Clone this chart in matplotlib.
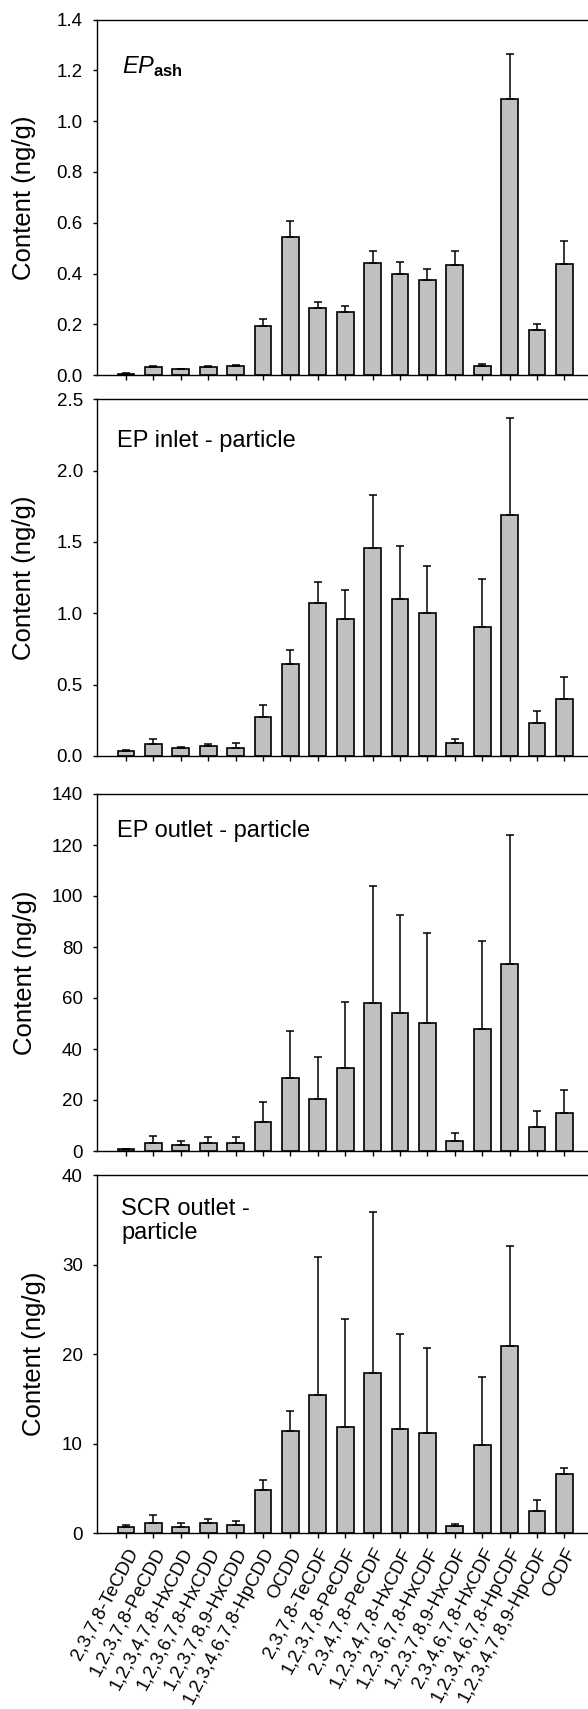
import matplotlib
matplotlib.use("Agg")
from matplotlib import pyplot as plt
import numpy as np

plt.rcParams['font.family'] = ['Liberation Sans', 'DejaVu Sans']
plt.rcParams['mathtext.fontset'] = 'custom'
plt.rcParams['mathtext.rm'] = 'Liberation Sans'
plt.rcParams['mathtext.it'] = 'Liberation Sans:italic'
plt.rcParams['mathtext.bf'] = 'Liberation Sans:bold'

congeners = ['2,3,7,8-TeCDD', '1,2,3,7,8-PeCDD', '1,2,3,4,7,8-HxCDD', '1,2,3,6,7,8-HxCDD',
             '1,2,3,7,8,9-HxCDD', '1,2,3,4,6,7,8-HpCDD', 'OCDD', '2,3,7,8-TeCDF',
             '1,2,3,7,8-PeCDF', '2,3,4,7,8-PeCDF', '1,2,3,4,7,8-HxCDF', '1,2,3,6,7,8-HxCDF',
             '1,2,3,7,8,9-HxCDF', '2,3,4,6,7,8-HxCDF', '1,2,3,4,6,7,8-HpCDF',
             '1,2,3,4,7,8,9-HpCDF', 'OCDF']

# mean content (ng/g) and upper error (sd)
ep_ash = [0.006, 0.033, 0.024, 0.033, 0.035, 0.193, 0.543, 0.264, 0.248, 0.44, 0.40, 0.375,
          0.433, 0.038, 1.088, 0.177, 0.437]
ep_ash_sd = [0.002, 0.002, 0.002, 0.002, 0.005, 0.030, 0.065, 0.023, 0.025, 0.048, 0.047,
             0.042, 0.055, 0.008, 0.177, 0.023, 0.092]

ep_inlet = [0.035, 0.087, 0.054, 0.073, 0.059, 0.272, 0.646, 1.072, 0.96, 1.458, 1.103, 1.002,
            0.089, 0.901, 1.688, 0.229, 0.40]
ep_inlet_sd = [0.007, 0.033, 0.012, 0.011, 0.030, 0.086, 0.098, 0.145, 0.201, 0.372, 0.372,
               0.328, 0.028, 0.342, 0.683, 0.089, 0.157]

ep_outlet = [0.65, 3.1, 2.2, 3.1, 3.1, 11.3, 28.8, 20.3, 32.7, 57.9, 54.3, 50.3, 4.1, 47.9,
             73.5, 9.6, 14.9]
ep_outlet_sd = [0.2, 2.7, 1.7, 2.5, 2.5, 7.8, 18.2, 16.5, 25.6, 46.0, 38.4, 35.2, 3.0, 34.5,
                50.4, 6.2, 8.9]

scr_outlet = [0.71, 1.12, 0.71, 1.12, 0.93, 4.87, 11.38, 15.47, 11.9, 17.92, 11.64, 11.15,
              0.78, 9.81, 20.86, 2.5, 6.65]
scr_outlet_sd = [0.19, 0.93, 0.41, 0.48, 0.49, 1.12, 2.26, 15.43, 11.97, 17.95, 10.66, 9.55,
                 0.26, 7.66, 11.18, 1.19, 0.64]

panels = [
    (ep_ash, ep_ash_sd, r'$\mathit{EP}_{\mathbf{ash}}$', 1.4, 0.2, '%.1f'),
    (ep_inlet, ep_inlet_sd, 'EP inlet - particle', 2.5, 0.5, '%.1f'),
    (ep_outlet, ep_outlet_sd, 'EP outlet - particle', 140, 20, '%d'),
    (scr_outlet, scr_outlet_sd, 'SCR outlet -\nparticle', 40, 10, '%d'),
]
# panel top / bottom in pixels (from top of figure)
rows_px = [(19.5, 375.3), (399.3, 756), (794, 1151), (1175, 1533.3)]
ylab_x = [36, 36, 37, 46]
txt_pos = [(122, 54), (117, 430), (117, 820), (121, 1198)]

W, H = 588, 1709
fig = plt.figure(figsize=(W / 100, H / 100), dpi=100)
left_px, right_px = 96.7, 610
step_px = 27.4
x = np.arange(len(congeners))
x0 = -29.3 / step_px

for i, (vals, sd, name, ymax, step, fmt) in enumerate(panels):
    top, bot = rows_px[i]
    ax = fig.add_axes([left_px / W, 1 - bot / H, (right_px - left_px) / W, (bot - top) / H])
    ax.bar(x, vals, width=0.62, color='#c0c0c0', edgecolor='black', linewidth=1.2,
           yerr=[np.zeros(len(sd)), sd], capsize=3.2,
           error_kw=dict(elinewidth=1.1, capthick=1.1, ecolor='black'))
    ax.set_xlim(x0, x0 + (right_px - left_px) / step_px)
    ax.set_ylim(0, ymax)
    ax.set_yticks(np.arange(0, ymax + step / 2, step))
    ax.yaxis.set_major_formatter(matplotlib.ticker.FormatStrFormatter(fmt))
    ax.set_xticks(x)
    ax.spines['right'].set_visible(False)
    for s in ['left', 'top', 'bottom']:
        ax.spines[s].set_linewidth(1.0)
    ax.tick_params(axis='y', direction='out', length=3, width=1, pad=7, labelsize=13.5)
    ax.tick_params(axis='x', direction='out', length=3.5, width=1)
    ax.set_ylabel('Content (ng/g)', fontsize=18.5)
    ax.yaxis.set_label_coords((ylab_x[i] - left_px) / (right_px - left_px), 0.5)
    ax.text(txt_pos[i][0] / W, 1 - txt_pos[i][1] / H, name, transform=fig.transFigure,
            fontsize=17, ha='left', va='top', linespacing=1.1)
    if i < 3:
        ax.set_xticklabels([])
    else:
        ax.set_xticklabels(congeners, rotation=62, ha='right', va='top',
                           rotation_mode='anchor', fontsize=13.5)
        ax.tick_params(axis='x', pad=5)

fig.savefig("out.png", dpi=100)
